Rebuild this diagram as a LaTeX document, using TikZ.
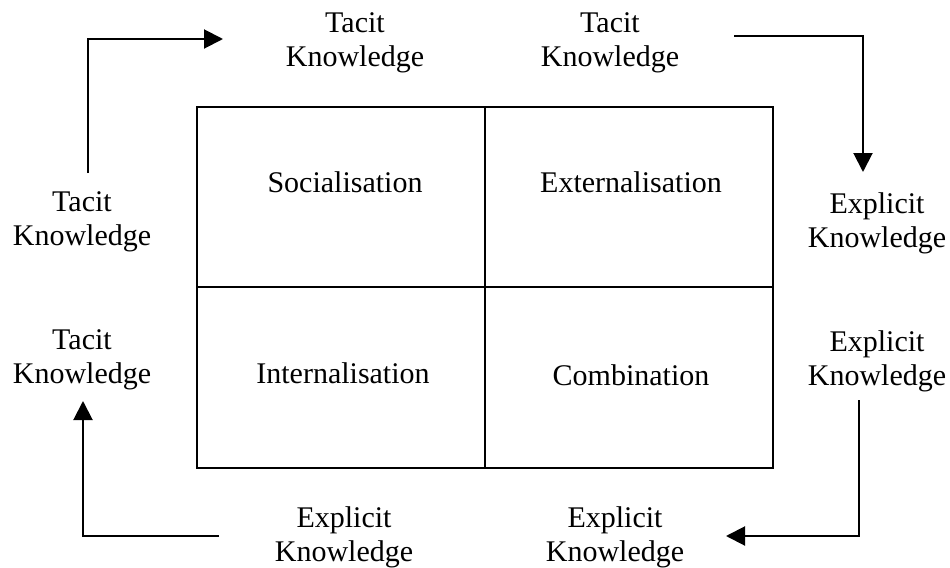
\documentclass[tikz,border=0pt]{standalone}
\usepackage{fontspec}
\setmainfont{Liberation Serif}
\usetikzlibrary{arrows.meta}

\begin{document}
\begin{tikzpicture}[x=0.5pt,y=-0.5pt,
    line width=1pt,
    label/.style={align=center,font=\fontsize{15}{17}\selectfont,inner sep=0pt},
    cell/.style={font=\fontsize{15}{17}\selectfont,inner sep=0pt},
    flow/.style={-{Triangle[length=9.5pt,width=9.5pt]}}]
  \useasboundingbox (0,0) rectangle (950,568);
  % matrix
  \draw (197,107) rectangle (773,468);
  \draw (485,107) -- (485,468);
  \draw (197,287) -- (773,287);
  \node[cell] (soc) at (345,182) {Socialisation};
  \node[cell] (ext) at (631,182) {Externalisation};
  \node[cell] (int) at (343,373) {Internalisation};
  \node[cell] (com) at (631,375) {Combination};
  % labels
  \node[label] (tl) at (355,43) {Tacit\\Knowledge};
  \node[label] (tr) at (610,43) {Tacit\\Knowledge};
  \node[label] (lu) at (82,222) {Tacit\\Knowledge};
  \node[label] (ll) at (82,360) {Tacit\\Knowledge};
  \node[label] (ru) at (877,223) {Explicit\\Knowledge};
  \node[label] (rl) at (877,361) {Explicit\\Knowledge};
  \node[label] (bl) at (344,537) {Explicit\\Knowledge};
  \node[label] (br) at (615,537) {Explicit\\Knowledge};
  % cycle arrows
  \coordinate (a1) at (88,173);
  \coordinate (a2) at (223,39);
  \coordinate (b1) at (734,36);
  \coordinate (b2) at (863,172);
  \coordinate (c1) at (859,400);
  \coordinate (c2) at (726,536);
  \coordinate (d1) at (219,536);
  \coordinate (d2) at (83,401);
  \draw[flow] (a1) |- (a2);
  \draw[flow] (b1) -| (b2);
  \draw[flow] (c1) |- (c2);
  \draw[flow] (d1) -| (d2);
\end{tikzpicture}
\end{document}
